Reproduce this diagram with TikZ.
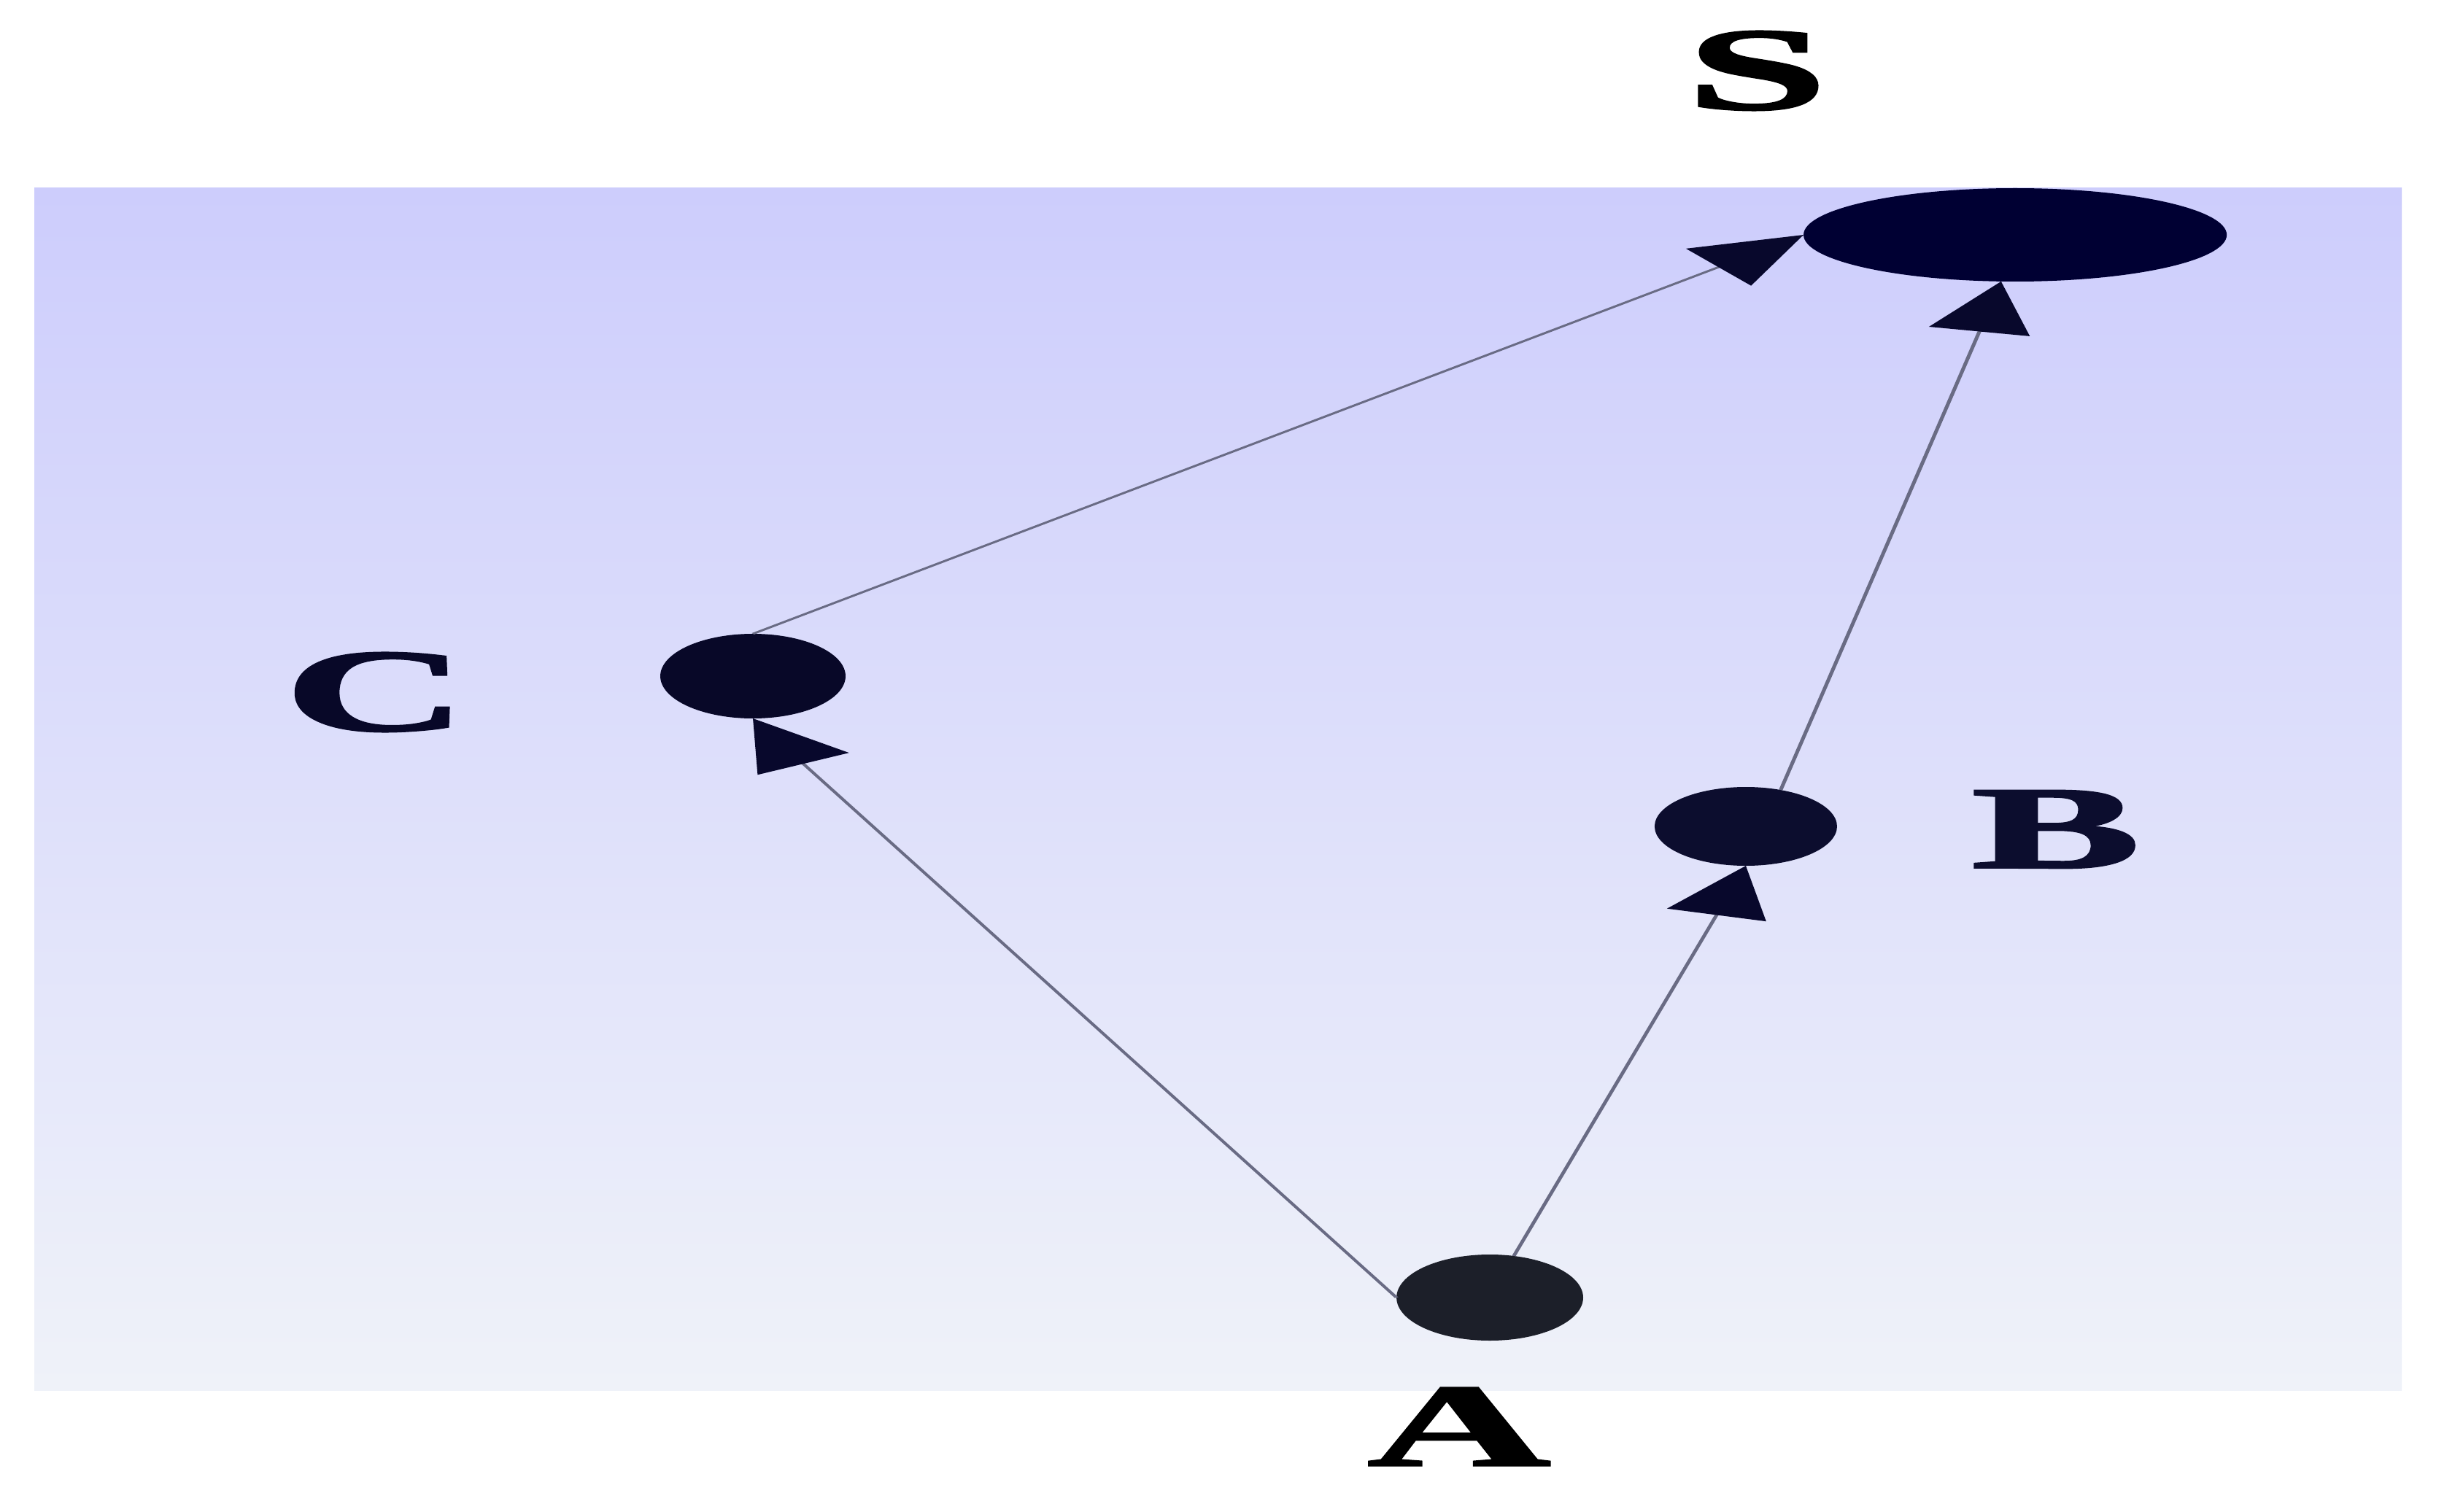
\documentclass[tikz,border=0pt]{standalone}
\usepackage{fontspec}
\setmainfont{Liberation Serif}
\newfontfamily\lblfont{Liberation Serif Bold}[FakeBold=1.5]
\usetikzlibrary{shapes.geometric,arrows.meta}
\definecolor{bgtop}{RGB}{205,205,252}
\definecolor{bgbot}{RGB}{239,242,249}
\definecolor{sfill}{RGB}{0,0,51}
\definecolor{cfill}{RGB}{8,8,40}
\definecolor{bfill}{RGB}{12,13,46}
\definecolor{afill}{RGB}{28,31,41}
\definecolor{edgecol}{RGB}{105,107,132}
\definecolor{arrowcol}{RGB}{8,8,44}
\tikzset{
  vertex/.style={ellipse, draw=none, inner sep=0pt, outer sep=0pt},
  lbl/.style={inner sep=0pt, outer sep=0pt, font=\fontsize{46}{50}\selectfont\lblfont},
  conn/.style={draw=edgecol, line width=0.7pt,
    -{Triangle[length=0.7cm,width=0.65cm,color=arrowcol]}}
}
\begin{document}
\begin{tikzpicture}
\useasboundingbox (0,0) rectangle (33.65,-20.73);
\fill[white] (0,0) rectangle (33.65,-20.73);
\shade[top color=bgtop, bottom color=bgbot] (0.47,-2.58) rectangle (32.92,-19.06);
\begin{scope}[transform canvas={xscale=2.15}]
  \node[vertex, fill=sfill, minimum width=2.698cm, minimum height=1.28cm] (S) at (12.847,-3.22) {};
  \node[vertex, fill=cfill, minimum width=1.181cm, minimum height=1.16cm] (C) at (4.800,-9.27) {};
  \node[vertex, fill=bfill, minimum width=1.163cm, minimum height=1.08cm] (B) at (11.130,-11.33) {};
  \node[vertex, fill=afill, minimum width=1.19cm, minimum height=1.18cm] (A) at (9.498,-17.79) {};
  \node[lbl, text=black] (lS) at (11.200,-0.97) {S};
  \node[lbl, text=cfill] (lC) at (2.395,-9.49) {C};
  \node[lbl, text=bfill] (lB) at (13.107,-11.37) {B};
  \node[lbl, text=black] (lA) at (9.302,-19.56) {A};
  \draw[conn] (A.west) -- (C.south);
  \draw[conn] (A.75) -- (B.south);
  \draw[conn] (B.66) -- (S.262);
  \draw[conn] (C.north) -- (S.west);
\end{scope}
\end{tikzpicture}
\end{document}
